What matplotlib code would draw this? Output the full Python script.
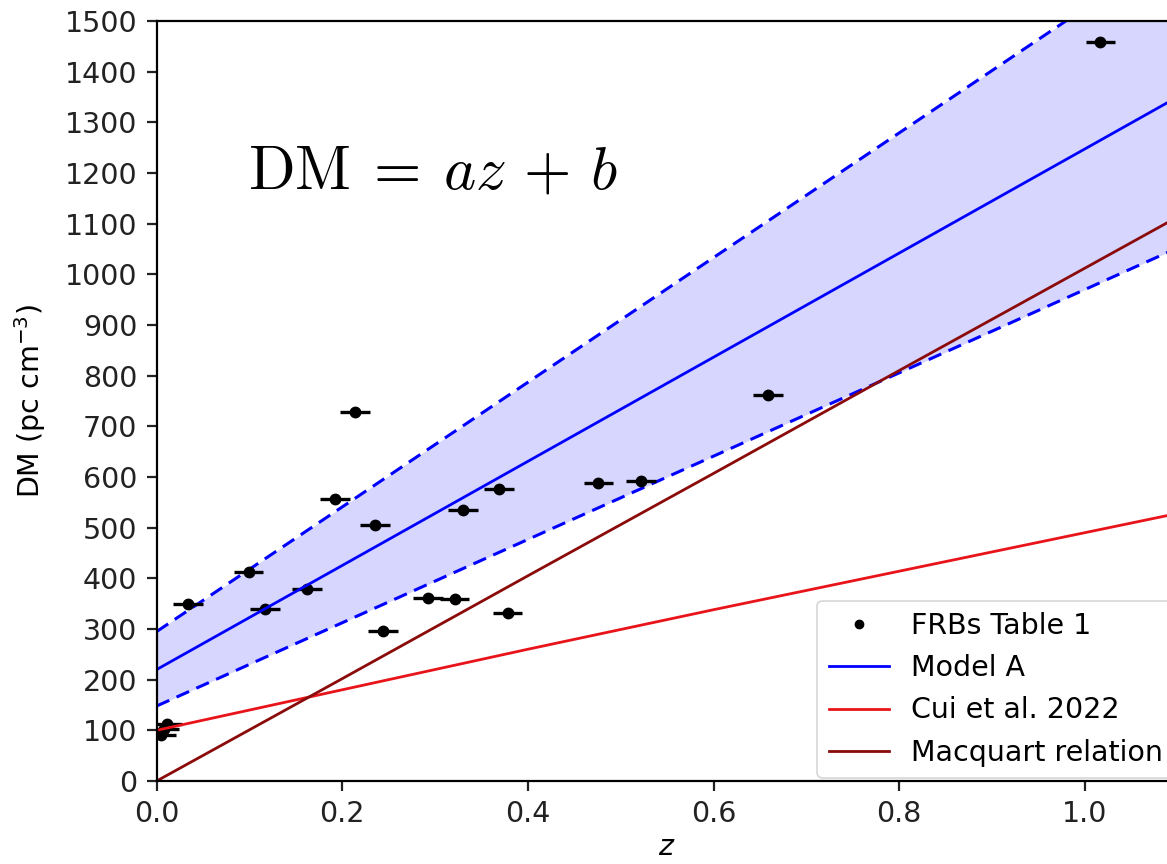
import matplotlib
matplotlib.use("Agg")
import matplotlib.pyplot as plt

# FRB sample
frb_z = [0.005, 0.008, 0.011, 0.034, 0.099, 0.117, 0.162, 0.192, 0.214, 0.235,
         0.244, 0.292, 0.321, 0.330, 0.369, 0.378, 0.476, 0.522, 0.659, 1.017]
frb_dm = [90, 103, 112, 349, 412, 339, 378, 556, 728, 506,
          296, 362, 360, 535, 577, 331, 588, 592, 761, 1458]
frb_zerr = 0.016
frb_dmerr = 5

# model curves sampled on a z grid
z_grid = [0.0, 1.1]
model_a = [220, 1350]
model_a_hi = [295, 1648]
model_a_lo = [148, 1052]

z_cui = [0.0, 0.2, 0.4, 0.6, 0.8, 1.0, 1.1]
dm_cui = [100, 180, 260, 338, 414, 490, 528]

z_macq = [0.0, 0.2, 0.4, 0.6, 0.8, 1.0, 1.1]
dm_macq = [0, 202, 405, 607, 810, 1012, 1113]

fs = 20.5

fig = plt.figure(figsize=(11.67, 8.64), dpi=100)
ax = fig.add_axes([0.1343, 0.0961, 0.8747, 0.8796])
for sp in ax.spines.values():
    sp.set_linewidth(1.6)

ax.fill_between(z_grid, model_a_lo, model_a_hi, color="blue", alpha=0.16, lw=0)
ax.plot(z_grid, model_a_hi, "--", color="blue", lw=2.2, dashes=(4.5, 2.6))
ax.plot(z_grid, model_a_lo, "--", color="blue", lw=2.2, dashes=(4.5, 2.6))

ax.errorbar(frb_z, frb_dm, xerr=frb_zerr, yerr=frb_dmerr, fmt="none",
            ecolor="black", elinewidth=2.4)
ax.plot(frb_z, frb_dm, "o", color="black", ms=7.5, label="FRBs Table 1")

ax.plot(z_grid, model_a, color="blue", lw=2.0, label="Model A")
ax.plot(z_cui, dm_cui, color="#e8141a", lw=2.0, label="Cui et al. 2022")
ax.plot(z_macq, dm_macq, color="#8b0a0a", lw=2.0, label="Macquart relation")

ax.text(0.098, 1170, r"$\mathrm{DM} \: = \: az \, + \, b$", fontsize=44,
        math_fontfamily="cm")

ax.set_xlim(0, 1.1)
ax.set_ylim(0, 1500)
ax.set_xticks([0.0, 0.2, 0.4, 0.6, 0.8, 1.0])
ax.set_yticks(range(0, 1501, 100))
ax.tick_params(labelsize=fs, length=7, width=1.6, pad=7, colors="#222222", labelcolor="#222222")
ax.set_xlabel(r"$z$", fontsize=fs, labelpad=3)
ax.set_ylabel(r"DM (pc cm$^{-3}$)", fontsize=fs, labelpad=12)

leg = ax.legend(loc="lower right", fontsize=fs, handlelength=2.1, markerscale=0.8,
                borderaxespad=0.1)
leg.get_frame().set_linewidth(1.2)

fig.savefig("out.png", dpi=100)
